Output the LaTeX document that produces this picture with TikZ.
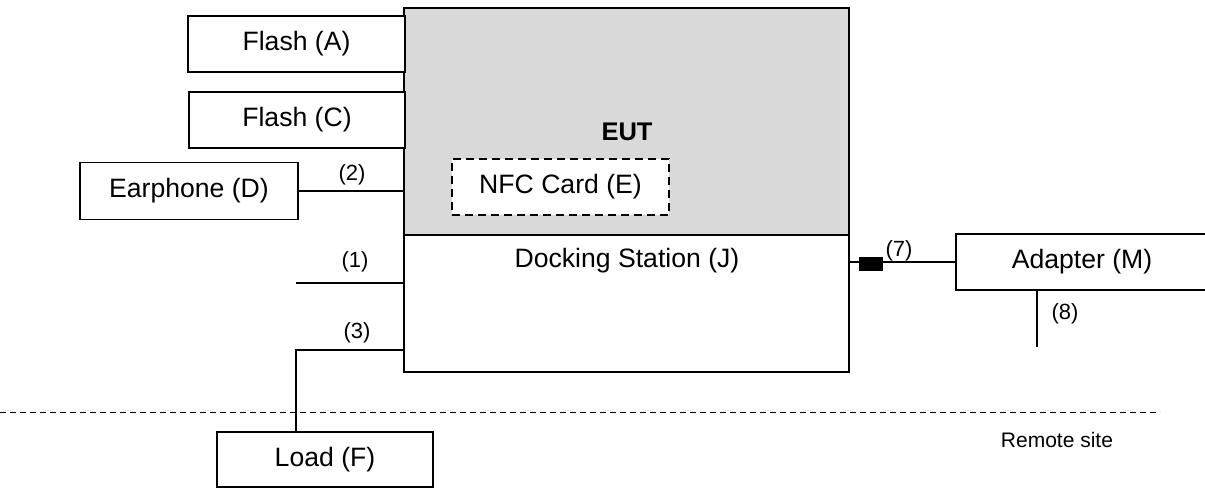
\documentclass[tikz,border=0pt]{standalone}
\usepackage{fontspec}
\setmainfont{Liberation Sans}
\definecolor{eutgrey}{HTML}{D9D9D9}
\begin{document}
\begin{tikzpicture}[x=1pt,y=-1pt,
  box/.style={draw, line width=1.7pt, fill=white, inner sep=0pt, outer sep=0pt,
    font=\fontsize{26.6}{30}\selectfont},
  lbl/.style={inner sep=0pt, font=\fontsize{22}{26}\selectfont},
  wire/.style={line width=1.7pt},
  sitesep/.style={line width=0.9pt, dash pattern=on 6pt off 4pt}]
\useasboundingbox (0,0) rectangle (1205,489);
\clip (0,0) rectangle (1205,489);

% EUT and docking station
\node[box, fill=eutgrey, minimum width=445pt, minimum height=227pt] (eut) at (626.5,121.5) {};
\node[inner sep=0pt, font=\fontsize{25.5}{30}\selectfont\bfseries] (euttext) at (627,132) {EUT};
\node[box, dashed, dash pattern=on 8pt off 5pt, minimum width=217pt, minimum height=56pt] (nfc) at (560.5,187) {NFC Card (E)};
\node[box, minimum width=445pt, minimum height=137pt] (dock) at (626.5,303.5) {};
\node[inner sep=0pt, font=\fontsize{26.6}{30}\selectfont] (docktext) at (627,261) {Docking Station (J)};

% peripherals
\node[box, minimum width=217pt, minimum height=56pt] (flashA) at (296.5,44) {Flash (A)};
\node[box, minimum width=216pt, minimum height=56pt] (flashC) at (297,120) {Flash (C)};
\node[box, minimum width=218pt, minimum height=57pt] (earph) at (189,191) {Earphone (D)};
\node[box, minimum width=216pt, minimum height=55pt] (load) at (325,459.5) {Load (F)};
\node[box, minimum width=252pt, minimum height=56pt] (adapter) at (1082,262) {Adapter (M)};

% cable (2)
\draw[wire] (earph.east) -- (earph.east -| eut.west);
\node[lbl] (l2) at (352,175) {(2)};

% cable (1)
\coordinate (c1) at (296,283);
\draw[wire] (c1) -- (c1 -| dock.west);
\node[lbl] (l1) at (355,262) {(1)};

% cable (3)
\coordinate (c3) at (296,350);
\draw[wire] (c3 -| dock.west) -- (c3) -- (c3 |- load.north);
\node[lbl] (l3) at (357,333) {(3)};

% cable (7)
\draw[wire] (adapter.west -| dock.east) -- (adapter.west);
\node[fill=black, draw=black, line width=0.5pt, inner sep=0pt, minimum width=23pt, minimum height=13pt] (plug) at (870.5,263.5) {};
\node[lbl] (l7) at (899,251) {(7)};

% cable (8)
\coordinate (c8) at (1037,347);
\draw[wire] (c8 |- adapter.south) -- (c8);
\node[lbl] (l8) at (1065,314) {(8)};

% remote site separation
\coordinate (dl) at (0,412);
\coordinate (dr) at (1160,412);
\draw[sitesep] (dl) -- (dr);
\node[inner sep=0pt, font=\fontsize{21}{25}\selectfont] (remote) at (1057,440) {Remote site};
\end{tikzpicture}
\end{document}
